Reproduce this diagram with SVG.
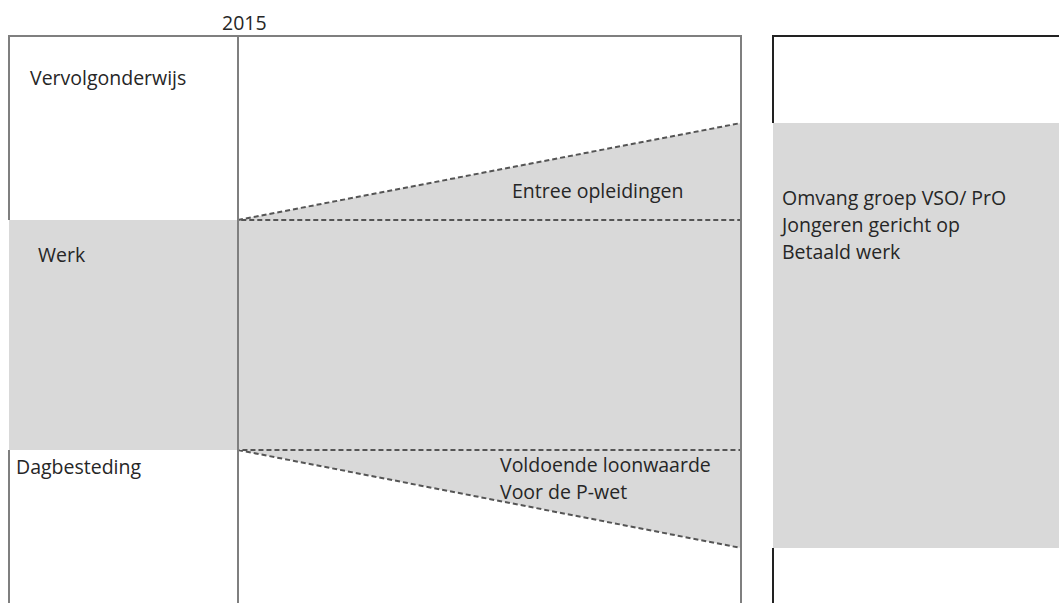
<svg xmlns="http://www.w3.org/2000/svg" width="1059" height="603" viewBox="0 0 1059 603">
<style>
text{font-family:"Open Sans","Liberation Sans",Arial,sans-serif;font-size:19.5px;fill:#262626}
.fill{fill:#d9d9d9}
.frame{stroke:#7f7f7f;stroke-width:2;fill:none}
.dash{stroke:#555;stroke-width:2;stroke-dasharray:5 3;fill:none}
.blk{stroke:#222;stroke-width:2;fill:none}
</style>
<rect width="1059" height="603" fill="#fff"/>
<g id="werk">
<rect class="fill" x="9" y="220" width="732" height="230"/>
<text x="38" y="262">Werk</text>
</g>
<g id="entree">
<polygon class="fill" points="238,220 741,123 741,220"/>
<polyline class="dash" points="238,220 741,123 741,220 238,220"/>
<text x="512" y="198">Entree opleidingen</text>
</g>
<g id="loonwaarde">
<polygon class="fill" points="238,450 741,450 741,548"/>
<polyline class="dash" points="238,450 741,548 741,450 238,450"/>
<text x="500" y="472">Voldoende loonwaarde</text>
<text x="500" y="499">Voor de P-wet</text>
</g>
<g id="omvang">
<rect class="fill" x="773" y="123" width="286" height="425"/>
<path class="blk" d="M773,123 V36 H1059 M773,548 V603"/>
<text x="782" y="205">Omvang groep VSO/ PrO</text>
<text x="782" y="232">Jongeren gericht op</text>
<text x="782" y="259">Betaald werk</text>
</g>
<g id="frame">
<path class="frame" d="M9,220 V36 H741 V603 M9,450 V603 M238,36 V603"/>
<text x="222" y="30">2015</text>
<text x="30" y="85">Vervolgonderwijs</text>
<text x="16" y="474">Dagbesteding</text>
</g>
</svg>
